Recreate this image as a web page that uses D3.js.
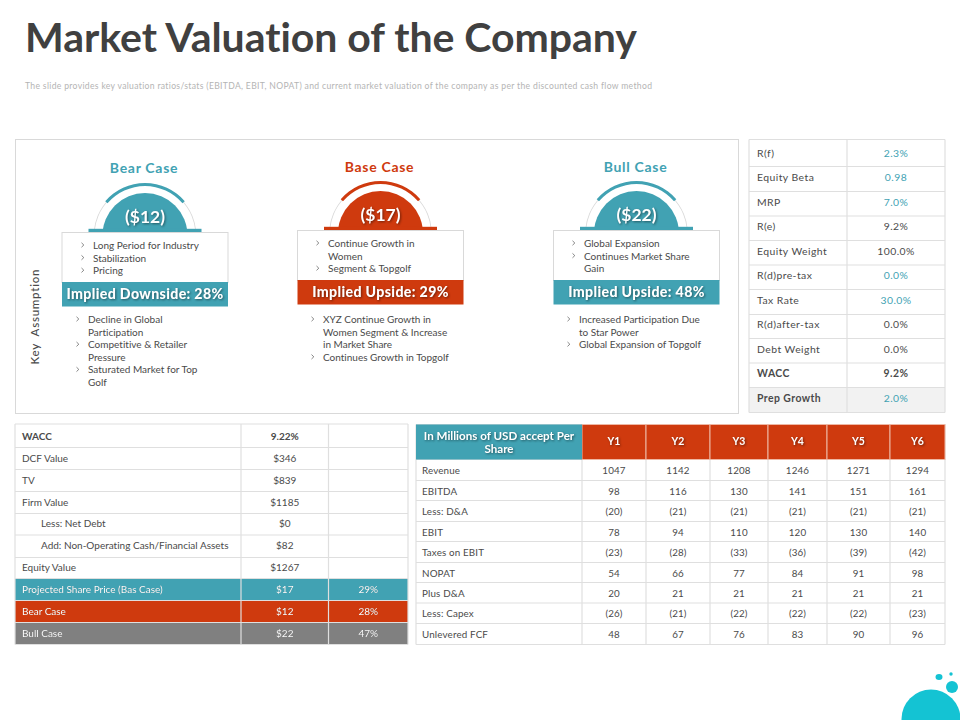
<!DOCTYPE html>
<meta charset="utf-8">
<script src="https://d3js.org/d3.v7.min.js"></script>
<style>
  html, body { margin: 0; background: #fff; }
  svg { display: block; }
  text { font-family: Lato, "Open Sans", sans-serif; fill: #4a4a4a; font-variant-ligatures: none; }
  .lift { filter: drop-shadow(1px 1px 1px rgba(0,0,0,.45)); }
  .liftsoft { filter: drop-shadow(.6px .6px .6px rgba(0,0,0,.35)); }
</style>
<body>
<div id="chart"></div>
<script>

var titleText = "Market Valuation of the Company";
var subtitleText = "The slide provides key valuation ratios/stats (EBITDA, EBIT, NOPAT) and current market valuation of the company as per the discounted cash flow method";

// the three cases
var caseNames = ["Bear Case", "Base Case", "Bull Case"];
var casePrices = ["($12)", "($17)", "($22)"];
var caseBanners = ["Implied Downside: 28%", "Implied Upside: 29%", "Implied Upside: 48%"];
var caseBoxBullets = [
  [["Long Period for Industry"], ["Stabilization"], ["Pricing"]],
  [["Continue Growth in", "Women"], ["Segment & Topgolf"]],
  [["Global Expansion"], ["Continues Market Share", "Gain"]]
];
var caseAssumptions = [
  [["Decline in Global", "Participation"], ["Competitive & Retailer", "Pressure"], ["Saturated Market for Top", "Golf"]],
  [["XYZ Continue Growth in", "Women Segment & Increase", "in Market Share"], ["Continues Growth in Topgolf"]],
  [["Increased Participation Due", "to Star Power"], ["Global Expansion of Topgolf"]]
];

// ratios table
var ratioLabels = ["R(f)", "Equity Beta", "MRP", "R(e)", "Equity Weight", "R(d)pre-tax", "Tax Rate", "R(d)after-tax", "Debt Weight", "WACC", "Prep Growth"];
var ratioValues = ["2.3%", "0.98", "7.0%", "9.2%", "100.0%", "0.0%", "30.0%", "0.0%", "0.0%", "9.2%", "2.0%"];
var ratioInputs = ["R(f)", "Equity Beta", "MRP", "R(d)pre-tax", "Tax Rate", "Prep Growth"];

// dcf table
var dcfLabels = ["WACC", "DCF Value", "TV", "Firm Value", "Less: Net Debt", "Add: Non-Operating Cash/Financial Assets", "Equity Value", "Projected Share Price (Bas Case)", "Bear Case", "Bull Case"];
var dcfValues = ["9.22%", "$346", "$839", "$1185", "$0", "$82", "$1267", "$17", "$12", "$22"];
var dcfPercents = ["", "", "", "", "", "", "", "29%", "28%", "47%"];
var dcfIndented = ["Less: Net Debt", "Add: Non-Operating Cash/Financial Assets"];

// forecast table
var forecastHeader = ["In Millions of USD accept Per", "Share"];
var years = ["Y1", "Y2", "Y3", "Y4", "Y5", "Y6"];
var forecastLabels = ["Revenue", "EBITDA", "Less: D&A", "EBIT", "Taxes on EBIT", "NOPAT", "Plus D&A", "Less: Capex", "Unlevered FCF"];
var revenue = [1047, 1142, 1208, 1246, 1271, 1294];
var ebitda = [98, 116, 130, 141, 151, 161];
var lessDA = [-20, -21, -21, -21, -21, -21];
var ebit = [78, 94, 110, 120, 130, 140];
var taxes = [-23, -28, -33, -36, -39, -42];
var nopat = [54, 66, 77, 84, 91, 98];
var plusDA = [20, 21, 21, 21, 21, 21];
var capex = [-26, -21, -22, -22, -22, -23];
var fcf = [48, 67, 76, 83, 90, 96];
var forecastRows = [revenue, ebitda, lessDA, ebit, taxes, nopat, plusDA, capex, fcf];

var TEAL = "#41a2b3", RED = "#cf3a0e", GRAY = "#808080", LINE = "#dfdfdf", BUBBLE = "#14c3d3";

var svg = d3.select("#chart").append("svg")
  .attr("width", 960)
  .attr("height", 720);

// heading
svg.append("text")
  .attr("x", 25).attr("y", 52)
  .attr("font-size", 41).attr("font-weight", 700)
  .attr("textLength", 612).attr("lengthAdjust", "spacing")
  .style("fill", "#404040")
  .text(titleText);

svg.append("text")
  .attr("x", 25).attr("y", 89)
  .attr("font-size", 8.6)
  .attr("textLength", 627).attr("lengthAdjust", "spacing")
  .style("fill", "#b4b4b4")
  .text(subtitleText);

// case panel
svg.append("rect")
  .attr("x", 15.5).attr("y", 139.5).attr("width", 723).attr("height", 274)
  .attr("fill", "#fff").attr("stroke", "#d9d9d9");

svg.append("text")
  .attr("transform", "translate(38.5,317) rotate(-90)")
  .attr("text-anchor", "middle")
  .attr("font-size", 11.5).attr("font-weight", 500)
  .attr("textLength", 95)
  .attr("xml:space", "preserve")
  .text("Key  Assumption");

var caseX = d3.scaleOrdinal().domain(caseNames).range([145, 380.5, 636.5]);
var caseTop = d3.scaleOrdinal().domain(caseNames).range([232, 230, 230]);
var caseColor = d3.scaleOrdinal().domain(caseNames).range([TEAL, RED, TEAL]);
var titleY = d3.scaleOrdinal().domain(caseNames).range([173, 172, 172]);
var textOffset = d3.scaleOrdinal().domain(caseNames).range([-52, -52.5, -52.5]);
var chevOffset = d3.scaleOrdinal().domain(caseNames).range([-64, -64.5, -64.5]);
var lowerOffset = d3.scaleOrdinal().domain(caseNames).range([-57, -57.5, -57.5]);

var lineY = d3.scaleLinear().domain([0, 1]).range([0, 12.6]);

function drawBullets(g, bullets, tx, cx, y0) {
  var n = 0;
  bullets.forEach(function(lines) {
    lines.forEach(function(line, i) {
      if (i === 0) {
        // small chevron bullet
        g.append("path")
          .attr("transform", "translate(" + cx + "," + (y0 + lineY(n)) + ")")
          .attr("d", "M0.5,-2.2L2.8,0L0.5,2.2")
          .attr("fill", "none").attr("stroke", "#666").attr("stroke-width", 0.8);
      }
      g.append("text").attr("x", tx).attr("y", y0 + lineY(n))
        .attr("font-size", 10).attr("dominant-baseline", "central")
        .text(line);
      n++;
    });
  });
}

var arcThin = d3.arc().innerRadius(50.5).outerRadius(51.3);
var arcThick = d3.arc().innerRadius(49.5).outerRadius(52.5);

caseNames.forEach(function(name, i) {
  var cx = caseX(name), top = caseTop(name), color = caseColor(name);
  var g = svg.append("g");
  var clipId = "clip" + i;

  g.append("clipPath").attr("id", clipId).append("rect")
    .attr("x", cx - 60).attr("y", top - 60).attr("width", 120).attr("height", 58);

  g.append("text")
    .attr("x", cx - 1).attr("y", titleY(name))
    .attr("text-anchor", "middle")
    .attr("font-size", 14).attr("font-weight", 700)
    .attr("letter-spacing", 0.7)
    .style("fill", color)
    .text(name);

  var dome = g.append("g").attr("clip-path", "url(#" + clipId + ")");
  dome.append("path")
    .attr("transform", "translate(" + cx + "," + (top + 3.5) + ")")
    .attr("d", arcThin({ startAngle: -Math.PI / 2, endAngle: Math.PI / 2 }))
    .attr("fill", "#d9d9d9");
  dome.append("circle")
    .attr("cx", cx).attr("cy", top + 3.5).attr("r", 42.5)
    .attr("fill", color);

  g.append("path")
    .attr("transform", "translate(" + cx + "," + (top + 3.5) + ")")
    .attr("d", arcThick({ startAngle: -0.86, endAngle: 0.86 }))
    .attr("fill", color);

  g.append("rect")
    .attr("x", cx - 56.5).attr("y", top - 3.2).attr("width", 113).attr("height", 3.2)
    .attr("fill", color);

  g.append("text")
    .attr("class", "lift")
    .attr("x", cx).attr("y", top - 9.5)
    .attr("text-anchor", "middle")
    .attr("font-size", 17.5).attr("font-weight", 700)
    .style("fill", "#fff")
    .text(casePrices[i]);

  // white box, banner
  g.append("rect")
    .attr("x", cx - 83).attr("y", top + 0.5).attr("width", 166).attr("height", 50)
    .attr("fill", "#fff").attr("stroke", "#d9d9d9");
  g.append("rect")
    .attr("x", cx - 83).attr("y", top + 50).attr("width", 166).attr("height", 24.5)
    .attr("fill", color);
  g.append("text")
    .attr("class", "lift")
    .attr("x", cx).attr("y", top + 67)
    .attr("text-anchor", "middle")
    .attr("font-size", 14.2).attr("font-weight", 900)
    .attr("letter-spacing", 0.35)
    .style("fill", "#fff")
    .text(caseBanners[i]);

  drawBullets(g, caseBoxBullets[i], cx + textOffset(name), cx + chevOffset(name), top + 13);
  drawBullets(g, caseAssumptions[i], cx + lowerOffset(name), cx + lowerOffset(name) - 12, 319);
});

// shared table drawing, edges go through piecewise scales
function drawTable(xEdges, yEdges, rowsData, opts) {
  var x = d3.scaleLinear().domain(d3.range(xEdges.length)).range(xEdges);
  var y = d3.scaleLinear().domain(d3.range(yEdges.length)).range(yEdges);
  var g = svg.append("g");

  rowsData.forEach(function(row, r) {
    var bg = opts.fill ? opts.fill(r) : null;
    if (bg) {
      g.append("rect")
        .attr("x", x(0)).attr("y", y(r))
        .attr("width", x(xEdges.length - 1) - x(0)).attr("height", y(r + 1) - y(r))
        .attr("fill", bg);
    }
    row.forEach(function(val, c) {
      if (val === "") return;
      var st = opts.style(r, c);
      g.append("text")
        .attr("class", st.lift ? "liftsoft" : null)
        .attr("x", c === 0 ? x(0) + st.pad : (x(c) + x(c + 1)) / 2)
        .attr("y", (y(r) + y(r + 1)) / 2 + (opts.dy ? opts.dy(r) : 0))
        .attr("text-anchor", c === 0 ? "start" : "middle")
        .attr("dominant-baseline", "central")
        .attr("font-size", opts.fontSize)
        .attr("font-weight", st.bold ? 700 : 400)
        .attr("letter-spacing", opts.spacing)
        .style("fill", st.color)
        .text(val);
    });
  });

  g.selectAll(".h").data(yEdges).enter().append("line")
    .attr("x1", x(0)).attr("x2", x(xEdges.length - 1))
    .attr("y1", function(d) { return d; }).attr("y2", function(d) { return d; })
    .attr("stroke", LINE).attr("stroke-width", 1.2);
  g.selectAll(".v").data(xEdges).enter().append("line")
    .attr("x1", function(d) { return d; }).attr("x2", function(d) { return d; })
    .attr("y1", y(0)).attr("y2", y(yEdges.length - 1))
    .attr("stroke", LINE).attr("stroke-width", 1.2);
  return { g: g, x: x, y: y };
}

// ratios
drawTable(
  [749, 847, 945],
  [139.5, 166.5, 191.5, 216, 240.5, 265, 289.5, 314.5, 338.5, 363, 387.5, 412.5],
  ratioLabels.map(function(d, i) { return [d, ratioValues[i]]; }),
  {
    fontSize: 10.4,
    spacing: 0.45,
    dy: function(r) { return r === 0 ? 0 : -2.2; },
    fill: function(r) { return ratioLabels[r] === "Prep Growth" ? "#f2f2f2" : null; },
    style: function(r, c) {
      var label = ratioLabels[r];
      var bold = label === "WACC" || (label === "Prep Growth" && c === 0);
      var input = ratioInputs.indexOf(label) >= 0;
      return { pad: 8, bold: bold, color: c === 1 && input ? TEAL : "#4a4a4a" };
    }
  }
);

// dcf
var dcfFills = d3.scaleOrdinal().domain(["Projected Share Price (Bas Case)", "Bear Case", "Bull Case"]).range([TEAL, RED, GRAY]).unknown(null);
drawTable(
  [15, 241, 328.5, 408],
  [424, 447.5, 469.5, 491.5, 513.5, 535, 557.5, 578.5, 600.5, 622.5, 644.5],
  dcfLabels.map(function(d, i) { return [d, dcfValues[i], dcfPercents[i]]; }),
  {
    fontSize: 10,
    spacing: 0,
    dy: function(r) { return r === 0 ? 0 : -1; },
    fill: function(r) { return dcfFills(dcfLabels[r]); },
    style: function(r) {
      var label = dcfLabels[r];
      var filled = !!dcfFills(label);
      return {
        pad: dcfIndented.indexOf(label) >= 0 ? 26 : 7,
        bold: label === "WACC",
        lift: filled,
        color: filled ? "#fff" : "#4a4a4a"
      };
    }
  }
);

// forecast
var fmt = function(v) { return v < 0 ? "(" + (-v) + ")" : String(v); };
var ft = drawTable(
  [416, 582, 646, 710, 768, 827, 890, 945],
  [424.5, 459.5, 480.5, 500.5, 521.5, 541.5, 562.5, 582.5, 603, 623.5, 644.5],
  [[""].concat(years.map(function() { return ""; }))].concat(
    forecastLabels.map(function(d, i) { return [d].concat(forecastRows[i].map(fmt)); })
  ),
  {
    fontSize: 9.8,
    spacing: 0.15,
    style: function() { return { pad: 6, bold: false, color: "#4a4a4a" }; }
  }
);

// forecast header cells sit on top of the grid
years.forEach(function(yr, i) {
  ft.g.append("rect")
    .attr("x", ft.x(i + 1)).attr("y", ft.y(0))
    .attr("width", ft.x(i + 2) - ft.x(i + 1)).attr("height", ft.y(1) - ft.y(0))
    .attr("fill", RED).attr("stroke", "#eeb7a4").attr("stroke-width", 1);
  ft.g.append("text")
    .attr("class", "lift")
    .attr("x", (ft.x(i + 1) + ft.x(i + 2)) / 2).attr("y", (ft.y(0) + ft.y(1)) / 2 - 1)
    .attr("text-anchor", "middle").attr("dominant-baseline", "central")
    .attr("font-size", 10.5).attr("font-weight", 700)
    .style("fill", "#fff")
    .text(yr);
});
ft.g.append("rect")
  .attr("x", ft.x(0)).attr("y", ft.y(0))
  .attr("width", ft.x(1) - ft.x(0)).attr("height", ft.y(1) - ft.y(0))
  .attr("fill", TEAL);
forecastHeader.forEach(function(line, i) {
  ft.g.append("text")
    .attr("class", "lift")
    .attr("x", (ft.x(0) + ft.x(1)) / 2).attr("y", 435 + i * 13)
    .attr("text-anchor", "middle").attr("dominant-baseline", "central")
    .attr("font-size", 11.6).attr("font-weight", 700)
    .style("fill", "#fff")
    .text(line);
});

// corner bubbles
svg.append("circle").attr("cx", 931).attr("cy", 719).attr("r", 29.5).attr("fill", BUBBLE);
svg.append("circle").attr("cx", 952).attr("cy", 687).attr("r", 6).attr("fill", BUBBLE);
svg.append("ellipse").attr("cx", 939).attr("cy", 677).attr("rx", 3.5).attr("ry", 3).attr("fill", BUBBLE);
svg.append("circle").attr("cx", 951).attr("cy", 674).attr("r", 1.7).attr("fill", BUBBLE);

</script>
</body>
</html>
